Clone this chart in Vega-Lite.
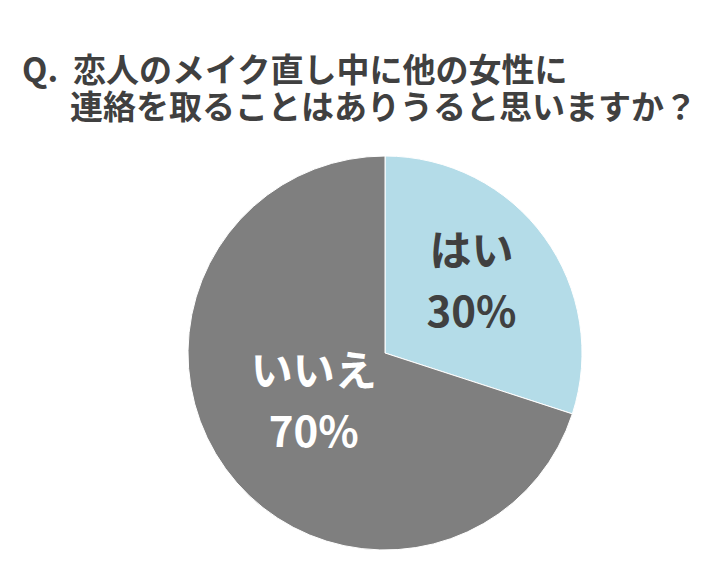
{
  "$schema": "https://vega.github.io/schema/vega-lite/v6.json",
  "width": 670,
  "height": 438,
  "autosize": "none",
  "padding": {"left": 50, "top": 134, "right": 0, "bottom": 0},
  "background": "white",
  "title": {
    "text": ["Q.\u00a0\u00a0恋人のメイク直し中に他の女性に", "\u200b\u3000\u00a0\u00a0連絡を取ることはありうると思いますか？"],
    "anchor": "start",
    "dx": -28,
    "offset": 8,
    "font": "Noto Sans CJK JP",
    "fontSize": 33,
    "fontWeight": "bold",
    "color": "#404040",
    "lineHeight": 37
  },
  "data": {
    "values": [
      {"answer": "はい", "percent": 30, "label": "はい\n30%"},
      {"answer": "いいえ", "percent": 70, "label": "いいえ\n70%"}
    ]
  },
  "encoding": {
    "theta": {"field": "percent", "type": "quantitative", "stack": true},
    "order": {"field": "answer", "sort": "descending"}
  },
  "layer": [
    {
      "mark": {"type": "arc", "outerRadius": 197, "stroke": "white", "strokeWidth": 1},
      "encoding": {
        "color": {
          "field": "answer",
          "type": "nominal",
          "scale": {"domain": ["はい", "いいえ"], "range": ["#b4dce8", "#7f7f7f"]},
          "legend": null
        }
      }
    },
    {
      "mark": {"type": "text", "radius": 107, "dy": -37, "lineBreak": "\n", "lineHeight": 61, "font": "Noto Sans CJK JP", "fontSize": 42, "fontWeight": "bold", "baseline": "middle", "align": "center", "color": "#404040"},
      "encoding": {
        "text": {"condition": {"test": "datum.answer === 'はい'", "field": "label"}, "value": ""}
      }
    },
    {
      "mark": {"type": "text", "radius": 88, "dy": -32, "lineBreak": "\n", "lineHeight": 61, "font": "Noto Sans CJK JP", "fontSize": 42, "fontWeight": "bold", "baseline": "middle", "align": "center", "color": "white"},
      "encoding": {
        "text": {"condition": {"test": "datum.answer === 'いいえ'", "field": "label"}, "value": ""}
      }
    }
  ]
}
